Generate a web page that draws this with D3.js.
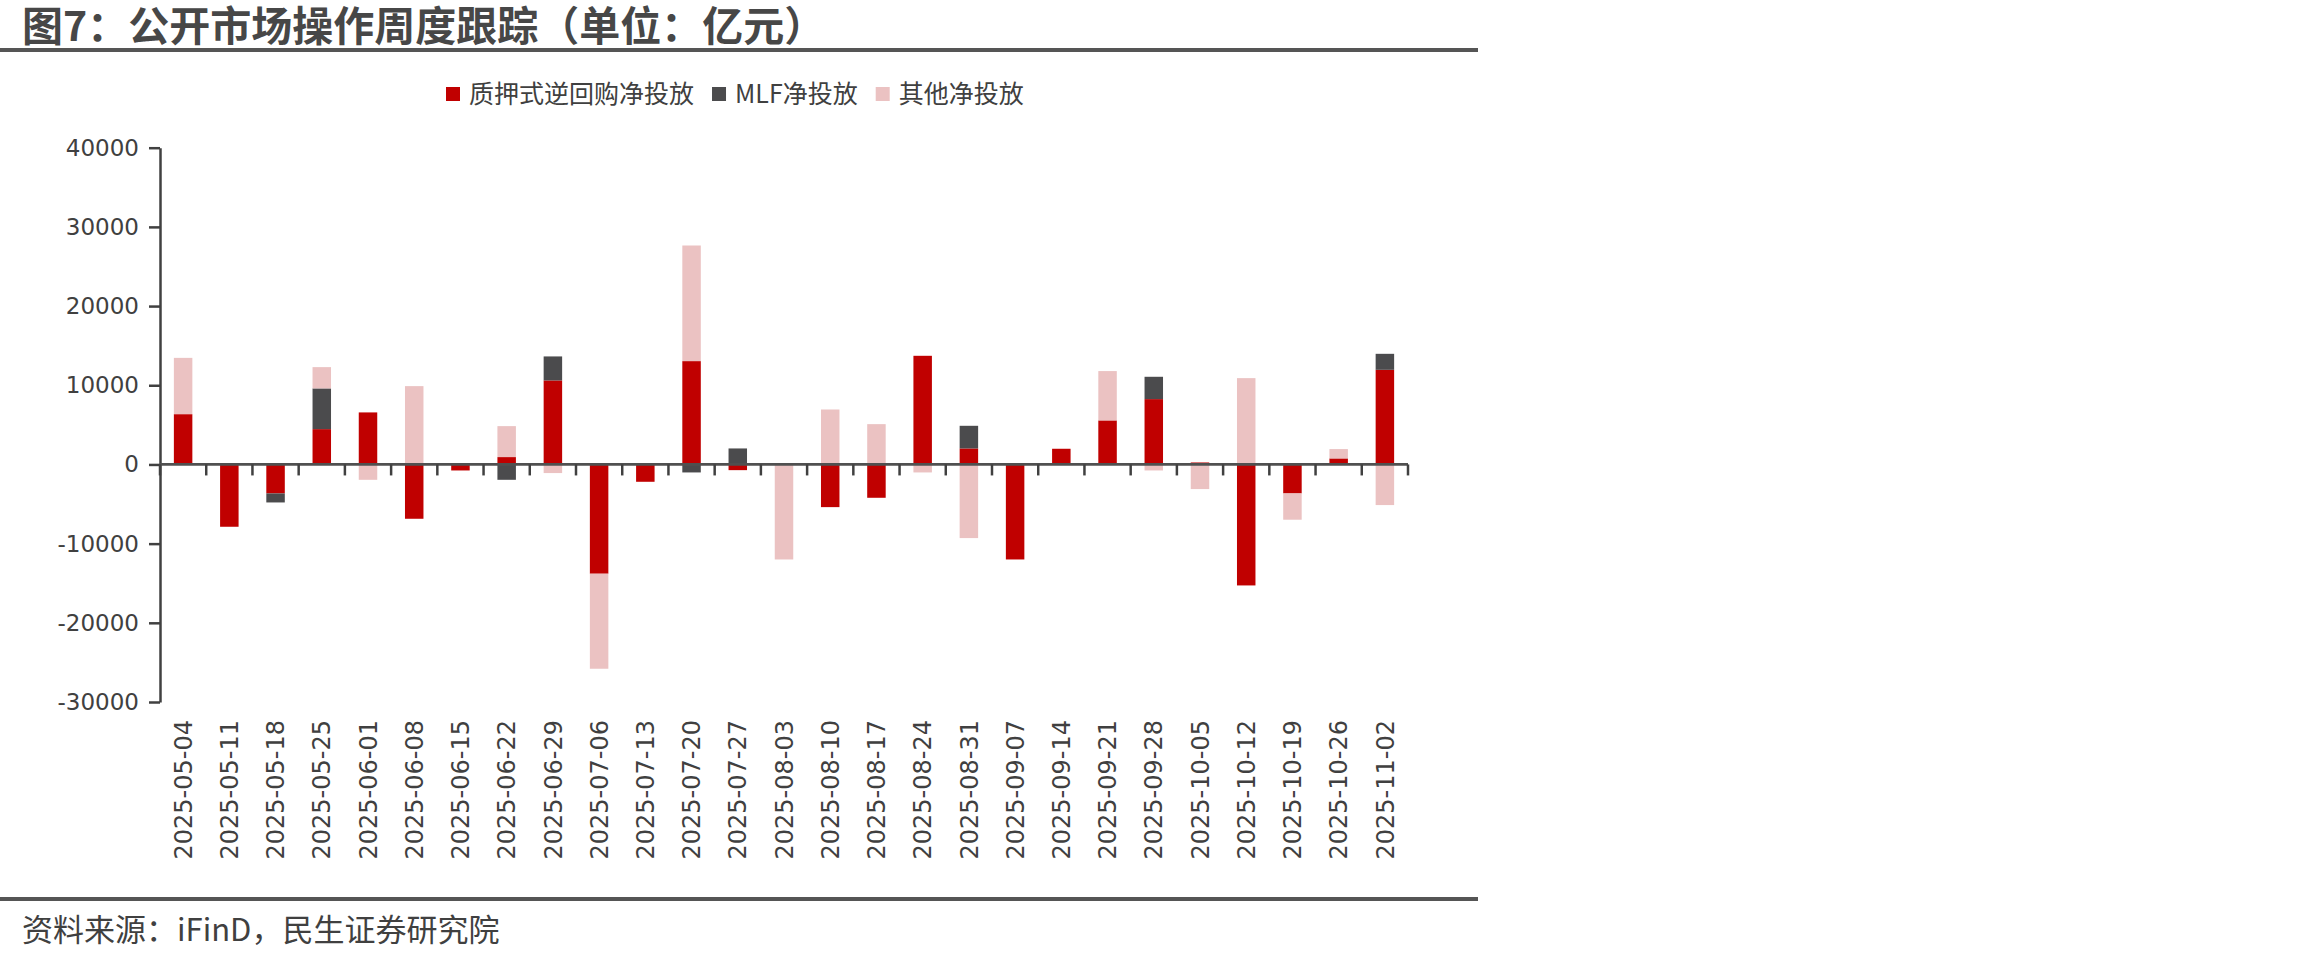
<!DOCTYPE html>
<html>
<head>
<meta charset="utf-8">
<script src="https://cdn.jsdelivr.net/npm/d3@7"></script>
<style>
  html, body { margin: 0; padding: 0; background: #ffffff; }
  svg { display: block; }
</style>
</head>
<body>
<div id="chart"></div>
<script>
// ---- Data (亿元) ----
const categories = ["2025-05-04","2025-05-11","2025-05-18","2025-05-25","2025-06-01","2025-06-08","2025-06-15","2025-06-22","2025-06-29","2025-07-06","2025-07-13","2025-07-20","2025-07-27","2025-08-03","2025-08-10","2025-08-17","2025-08-24","2025-08-31","2025-09-07","2025-09-14","2025-09-21","2025-09-28","2025-10-05","2025-10-12","2025-10-19","2025-10-26","2025-11-02"];
const repoNet  = [6350, -7870, -3660, 4460, 6570, -6860, -760, 930, 10610, -13800, -2190, 13050, -720, 0, -5390, -4210, 13720, 2020, -12000, 1980, 5560, 8250, 250, -15280, -3660, 760, 11950];
const mlfNet   = [0, 0, -1140, 5140, 0, 0, 0, -1940, 3030, 0, 0, -1010, 2020, 0, 0, 0, 0, 2860, 0, 0, 0, 2820, 0, 0, 0, 0, 2020];
const otherNet = [7110, 0, 0, 2690, -1940, 9890, 0, 3910, -1090, -12000, 0, 14600, 0, -12000, 6940, 5090, -1010, -9300, 0, 0, 6230, -760, -3110, 10900, -3320, 1180, -5130];
const seriesNames = ["质押式逆回购净投放", "MLF净投放", "其他净投放"];
const yTicks = [40000, 30000, 20000, 10000, 0, -10000, -20000, -30000];
const titleText = "图7：公开市场操作周度跟踪（单位：亿元）";
const sourceText = "资料来源：iFinD，民生证券研究院";

// ---- Style / layout ----
const W = 2310, H = 960;
const colors = ["#C00000", "#4B4B4D", "#EBC2C2"];
const textColor = "#404040";
const axisColor = "#404040";
const cjk = "'Noto Sans CJK SC', 'Noto Sans', sans-serif";
const latin = "'DejaVu Sans', Verdana, sans-serif";

const svg = d3.select("#chart").append("svg")
  .attr("width", W).attr("height", H)
  .attr("viewBox", `0 0 ${W} ${H}`);
svg.append("rect").attr("width", W).attr("height", H).attr("fill", "#fff");

// Title
svg.append("text")
  .attr("x", 22).attr("y", 41)
  .attr("font-family", cjk).attr("font-weight", 700).attr("font-size", 41)
  .attr("fill", "#474747")
  .text(titleText);
svg.append("line")
  .attr("x1", 0).attr("x2", 1478).attr("y1", 50).attr("y2", 50)
  .attr("stroke", "#555555").attr("stroke-width", 4);

// Scales
const x = d3.scaleBand().domain(categories).range([160, 1408]).padding(0);
const y = d3.scaleLinear().domain([-30000, 40000]).range([702, 147.7]);

// Stack
const keys = ["repo", "mlf", "other"];
const rows = categories.map((c, i) => ({ cat: c, repo: repoNet[i], mlf: mlfNet[i], other: otherNet[i] }));
const stacked = d3.stack().keys(keys).offset(d3.stackOffsetDiverging)(rows);

const barW = x.bandwidth() * 0.4;
const gBars = svg.append("g");
stacked.forEach((layer, li) => {
  gBars.append("g").attr("fill", colors[li])
    .selectAll("rect")
    .data(layer.filter(d => d[1] !== d[0]))
    .join("rect")
    .attr("x", d => x(d.data.cat) + (x.bandwidth() - barW) / 2)
    .attr("width", barW)
    .attr("y", d => y(Math.max(d[0], d[1])))
    .attr("height", d => Math.abs(y(d[0]) - y(d[1])));
});

// Y axis
const yAxis = svg.append("g")
  .attr("transform", `translate(${x.range()[0]},0)`)
  .call(d3.axisLeft(y).tickValues(yTicks).tickSize(11).tickSizeOuter(0).tickPadding(10).tickFormat(d => String(d)));
yAxis.select(".domain").attr("stroke", axisColor).attr("stroke-width", 2.5);
yAxis.selectAll(".tick line").attr("stroke", axisColor).attr("stroke-width", 2.5);
yAxis.selectAll(".tick text")
  .attr("font-family", latin).attr("font-size", 23).attr("fill", textColor);

// X axis at zero
const y0 = y(0);
const gx = svg.append("g");
gx.append("line")
  .attr("x1", x.range()[0]).attr("x2", x.range()[1])
  .attr("y1", y0).attr("y2", y0)
  .attr("stroke", "#505050").attr("stroke-width", 2.8);
const boundaries = categories.map(c => x(c)).concat([x.range()[1]]);
gx.selectAll("line.tk").data(boundaries).join("line").attr("class", "tk")
  .attr("x1", d => d).attr("x2", d => d)
  .attr("y1", y0).attr("y2", y0 + 11)
  .attr("stroke", axisColor).attr("stroke-width", 2.5);
gx.selectAll("text.lbl").data(categories).join("text").attr("class", "lbl")
  .attr("transform", d => `translate(${x(d) + x.bandwidth() / 2},720) rotate(-90)`)
  .attr("text-anchor", "end").attr("dy", "0.36em")
  .attr("font-family", latin).attr("font-size", 24).attr("fill", textColor)
  .text(d => d);

// Legend
const legend = svg.append("g");
let lx = 446;
seriesNames.forEach((name, i) => {
  legend.append("rect").attr("x", lx).attr("y", 87).attr("width", 14).attr("height", 14).attr("fill", colors[i]);
  const t = legend.append("text")
    .attr("x", lx + 23).attr("y", 103)
    .attr("font-family", cjk).attr("font-size", 25).attr("fill", textColor)
    .text(name);
  lx += 23 + t.node().getComputedTextLength() + 18;
});

// Bottom line and source
svg.append("line")
  .attr("x1", 0).attr("x2", 1478).attr("y1", 899).attr("y2", 899)
  .attr("stroke", "#555555").attr("stroke-width", 4);
svg.append("text")
  .attr("x", 22).attr("y", 941)
  .attr("font-family", cjk).attr("font-size", 31).attr("fill", textColor)
  .text(sourceText);
</script>
</body>
</html>
